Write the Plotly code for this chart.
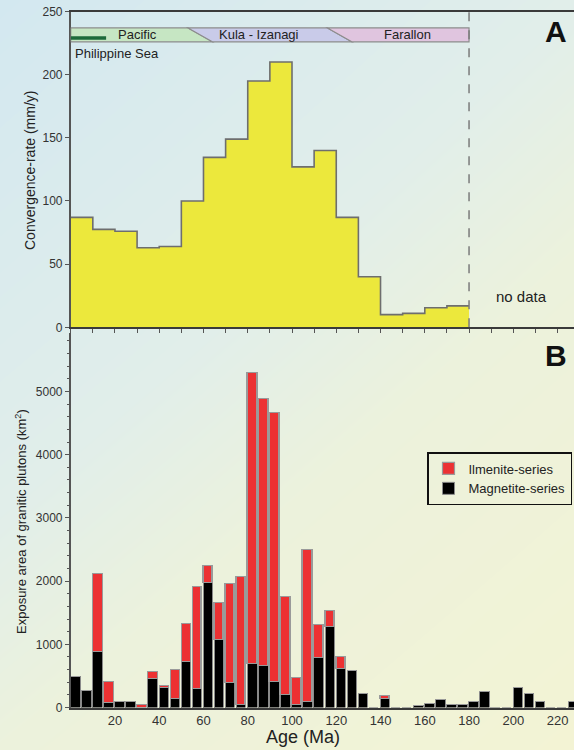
import plotly.graph_objects as go

# ---------------- data ----------------
# Panel A: convergence rate (mm/y), 10-Ma bins starting at these ages
conv_age = [0, 10, 20, 30, 40, 50, 60, 70, 80, 90, 100, 110, 120, 130, 140, 150, 160, 170]
conv_rate = [87, 77.5, 76, 63, 64, 100, 134.5, 149, 195, 210, 127, 140, 87, 40, 10, 11, 15.5, 17]
data_limit_age = 180

# Plate bands (start age, end age at top edge / bottom edge)
plate_names = ["Pacific", "Kula - Izanagi", "Farallon"]
plate_top_start = [0, 53, 116]
plate_top_end = [53, 116, 180]
plate_bot_start = [0, 64, 127]
plate_bot_end = [64, 127, 180]
plate_colors = ["#c6e6c3", "#c9cbe9", "#e0c5df"]
plate_label_age = [30, 85, 152]
phil_sea_age = [0, 16]

# Panel B: exposure area of granitic plutons (km2), 5-Ma bins starting at these ages
bin_age = [0, 5, 10, 15, 20, 25, 30, 35, 40, 45, 50, 55, 60, 65, 70, 75, 80, 85, 90, 95,
           100, 105, 110, 115, 120, 125, 130, 135, 140, 145, 150, 155, 160, 165, 170, 175,
           180, 185, 190, 195, 200, 205, 210, 215, 220, 225]
magnetite = [490, 258, 883, 71, 90, 90, 0, 446, 303, 140, 725, 285, 1975, 1068, 393, 40,
             683, 662, 398, 193, 40, 92, 778, 1279, 614, 578, 214, 0, 140, 0, 0, 25, 55, 120,
             32, 47, 95, 253, 0, 0, 316, 206, 95, 0, 0, 80]
total = [490, 258, 2117, 409, 90, 90, 45, 562, 345, 593, 1316, 1910, 2240, 1658, 1954, 2060,
         5300, 4880, 4660, 1743, 467, 2492, 1300, 1532, 804, 578, 214, 0, 180, 0, 0, 25, 55, 120,
         32, 47, 95, 253, 0, 0, 316, 206, 95, 0, 0, 80]
ilmenite = [t - m for t, m in zip(total, magnetite)]

x_ticks_b = [20, 40, 60, 80, 100, 120, 140, 160, 180, 200, 220]

# ---------------- figure ----------------
W, H = 574, 750
FONT = "Liberation Sans, Arial, Helvetica, sans-serif"

fig = go.Figure()

# Background gradient (style only)
fig.add_trace(go.Heatmap(
    x=[0, 1], y=[0, 1], z=[[0.62, 1.0], [0.0, 0.42]], zsmooth="best",
    colorscale=[[0, "#d3e8f0"], [0.42, "#e1eeea"], [0.62, "#ecf2dc"], [1, "#f3f3d4"]],
    showscale=False, hoverinfo="skip", xaxis="x", yaxis="y"))

# Panel A: step area
fig.add_trace(go.Scatter(
    x=conv_age + [data_limit_age], y=conv_rate + [conv_rate[-1]],
    mode="lines", line=dict(shape="hv", color="#6e6e6e", width=1.6),
    fill="tozeroy", fillcolor="#ece83c", showlegend=False, hoverinfo="skip",
    xaxis="x2", yaxis="y2"))

# Panel B: stacked bars
fig.add_trace(go.Bar(
    x=bin_age, y=magnetite, name="Magnetite-series", offset=0, width=4.3,
    marker=dict(color="#000000", line=dict(color="#8a8a8a", width=1)),
    xaxis="x3", yaxis="y3", legendrank=2))
fig.add_trace(go.Bar(
    x=bin_age, y=ilmenite, name="Ilmenite-series", offset=0, width=4.3,
    marker=dict(color="#ec3133", line=dict(color="#9a9a9a", width=1.2)),
    xaxis="x3", yaxis="y3", legendrank=1))

# panel geometry (pixels)
x0_px = 70.7
a_top_px, a_bot_px = 11.5, 327.3
b_top_px, b_bot_px = 333.0, 707.5
xmax = (W - x0_px) / 2.213

dom_x = [x0_px / W, 1]
dom_a = [1 - a_bot_px / H, 1 - a_top_px / H]
dom_b = [1 - b_bot_px / H, 1 - b_top_px / H]
b_top_val = (b_bot_px - b_top_px) / 0.0632

axis_col = "#555555"
tick_font = dict(family=FONT, size=12, color="#333333")

shapes = []
annotations = []

# plate bands
for i, name in enumerate(plate_names):
    path = (f"M {plate_bot_start[i]},226 L {plate_top_start[i]},237 "
            f"L {plate_top_end[i]},237 L {plate_bot_end[i]},226 Z")
    shapes.append(dict(type="path", path=path, xref="x2", yref="y2",
                       fillcolor=plate_colors[i], line=dict(color="#8c8c8c", width=1.2),
                       layer="above"))
    annotations.append(dict(x=plate_label_age[i], y=231.5, xref="x2", yref="y2",
                            text=name, showarrow=False, xanchor="center", yanchor="middle",
                            font=dict(family=FONT, size=13, color="#222222")))

# Philippine Sea bar
shapes.append(dict(type="line", x0=phil_sea_age[0], x1=phil_sea_age[1], y0=229, y1=229,
                   xref="x2", yref="y2", line=dict(color="#1d6a3a", width=3.5), layer="above"))
annotations.append(dict(x=1, y=217, xref="x2", yref="y2", text="Philippine Sea",
                        showarrow=False, xanchor="left", yanchor="middle",
                        font=dict(family=FONT, size=13, color="#222222")))

# dashed data-limit line
shapes.append(dict(type="line", x0=data_limit_age, x1=data_limit_age, y0=0, y1=250,
                   xref="x2", yref="y2", line=dict(color="#7a7a7a", width=1.5, dash="dash"),
                   layer="above"))


def pann(x, y, text, size, angle=0, bold=False):
    return dict(x=x / W, y=1 - y / H, xref="paper", yref="paper", text=text,
                showarrow=False, xanchor="center", yanchor="middle", textangle=angle,
                font=dict(family=FONT, size=size, color="#111111" if bold else "#222222"))


annotations += [
    pann(521, 296, "no data", 15),
    pann(556, 31, "<b>A</b>", 30, bold=True),
    pann(556, 355, "<b>B</b>", 30, bold=True),
    pann(30, 170, "Convergence-rate (mm/y)", 14, angle=-90),
    pann(21, 522, "Exposure area of granitic plutons (km<sup>2</sup>)", 13, angle=-90),
    pann(303, 737, "Age (Ma)", 18),
]

fig.update_layout(
    width=W, height=H, autosize=False,
    margin=dict(l=0, r=0, t=0, b=0, autoexpand=False),
    paper_bgcolor="#e4efe4", plot_bgcolor="rgba(0,0,0,0)",
    barmode="stack", bargap=0,
    font=dict(family=FONT, color="#222222"),
    shapes=shapes, annotations=annotations,
    legend=dict(x=427 / W, y=1 - 452 / H, xanchor="left", yanchor="top",
                bgcolor="rgba(0,0,0,0)", bordercolor="#111111", borderwidth=1.5,
                font=dict(family=FONT, size=13, color="#222222"),
                traceorder="normal", itemwidth=30, tracegroupgap=4),
    xaxis=dict(domain=[0, 1], range=[0, 1], visible=False, fixedrange=True, automargin=False),
    yaxis=dict(domain=[0, 1], range=[0, 1], visible=False, fixedrange=True, automargin=False),
    xaxis2=dict(domain=dom_x, range=[0, xmax], anchor="y2", showgrid=False, zeroline=False,
                showline=True, linecolor="#3a3a3a", linewidth=2, mirror=True, automargin=False,
                ticks="outside", ticklen=4, tickcolor=axis_col, dtick=10, tick0=0,
                showticklabels=False),
    yaxis2=dict(domain=dom_a, range=[0, 250], anchor="x2", showgrid=False, zeroline=False,
                showline=True, linecolor=axis_col, linewidth=1.5, automargin=False,
                ticks="outside", ticklen=4, tickcolor=axis_col, dtick=50,
                tickfont=tick_font),
    xaxis3=dict(domain=dom_x, range=[0, xmax], anchor="y3", showgrid=False, zeroline=False,
                showline=True, linecolor="#3a3a3a", linewidth=2, automargin=False,
                ticks="", tickvals=x_ticks_b, tickfont=dict(family=FONT, size=13, color="#333333")),
    yaxis3=dict(domain=dom_b, range=[0, b_top_val], anchor="x3", showgrid=False, zeroline=False,
                showline=True, linecolor=axis_col, linewidth=1.5, automargin=False,
                ticks="outside", ticklen=4, tickcolor=axis_col, dtick=1000,
                minor=dict(dtick=200, ticks="outside", ticklen=2, tickcolor=axis_col),
                tickfont=tick_font),
)

fig.write_html("out.html", config={"displayModeBar": False},
               post_script="document.body.style.margin='0';document.body.style.overflow='hidden';")
